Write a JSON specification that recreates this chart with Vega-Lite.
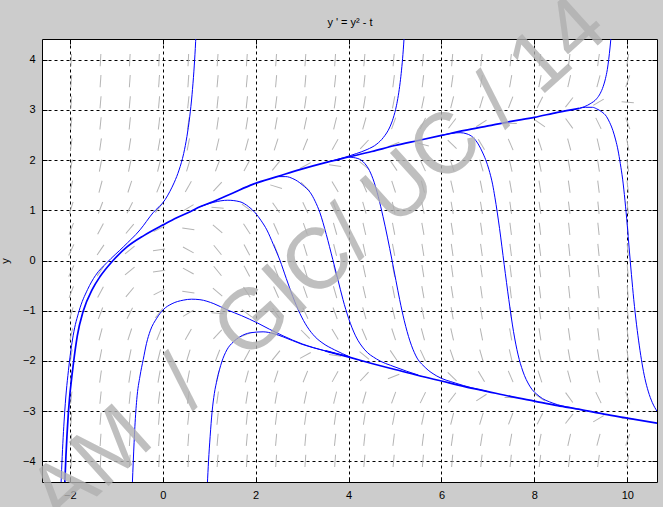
{
"$schema": "https://vega.github.io/schema/vega-lite/v6.json",
"width": 615, "height": 443,
"autosize": {"type": "none"},
"padding": {"left": 42, "top": 39, "right": 6, "bottom": 25},
"background": "#cccccc",
"config": {"view": {"fill": "white", "stroke": "black", "strokeWidth": 1}, "font": "Liberation Sans"},
"datasets": {
"field": [
{"t":-1.97,"y":3.99,"d":87},{"t":-1.34,"y":3.99,"d":87},{"t":-0.71,"y":3.99,"d":87},{"t":-0.08,"y":3.99,"d":87},{"t":0.55,"y":3.99,"d":87},{"t":1.18,"y":3.99,"d":86},{"t":1.81,"y":3.99,"d":86},{"t":2.44,"y":3.99,"d":86},{"t":3.07,"y":3.99,"d":86},{"t":3.71,"y":3.99,"d":86},{"t":4.34,"y":3.99,"d":85},{"t":4.97,"y":3.99,"d":85},{"t":5.6,"y":3.99,"d":85},{"t":6.23,"y":3.99,"d":85},{"t":6.86,"y":3.99,"d":84},{"t":7.49,"y":3.99,"d":84},{"t":8.12,"y":3.99,"d":83},{"t":8.75,"y":3.99,"d":83},{"t":9.38,"y":3.99,"d":82},{"t":10.01,"y":3.99,"d":81},
{"t":-1.97,"y":3.57,"d":86},{"t":-1.34,"y":3.57,"d":86},{"t":-0.71,"y":3.57,"d":86},{"t":-0.08,"y":3.57,"d":86},{"t":0.55,"y":3.57,"d":86},{"t":1.18,"y":3.57,"d":85},{"t":1.81,"y":3.57,"d":85},{"t":2.44,"y":3.57,"d":85},{"t":3.07,"y":3.57,"d":85},{"t":3.71,"y":3.57,"d":84},{"t":4.34,"y":3.57,"d":84},{"t":4.97,"y":3.57,"d":83},{"t":5.6,"y":3.57,"d":83},{"t":6.23,"y":3.57,"d":82},{"t":6.86,"y":3.57,"d":81},{"t":7.49,"y":3.57,"d":80},{"t":8.12,"y":3.57,"d":79},{"t":8.75,"y":3.57,"d":77},{"t":9.38,"y":3.57,"d":75},{"t":10.01,"y":3.57,"d":71},
{"t":-1.97,"y":3.15,"d":86},{"t":-1.34,"y":3.15,"d":85},{"t":-0.71,"y":3.15,"d":85},{"t":-0.08,"y":3.15,"d":85},{"t":0.55,"y":3.15,"d":84},{"t":1.18,"y":3.15,"d":84},{"t":1.81,"y":3.15,"d":84},{"t":2.44,"y":3.15,"d":83},{"t":3.07,"y":3.15,"d":82},{"t":3.71,"y":3.15,"d":82},{"t":4.34,"y":3.15,"d":81},{"t":4.97,"y":3.15,"d":79},{"t":5.6,"y":3.15,"d":78},{"t":6.23,"y":3.15,"d":76},{"t":6.86,"y":3.15,"d":73},{"t":7.49,"y":3.15,"d":69},{"t":8.12,"y":3.15,"d":63},{"t":8.75,"y":3.15,"d":52},{"t":9.38,"y":3.15,"d":31},{"t":10.01,"y":3.15,"d":-5},
{"t":-1.97,"y":2.73,"d":84},{"t":-1.34,"y":2.73,"d":84},{"t":-0.71,"y":2.73,"d":84},{"t":-0.08,"y":2.73,"d":83},{"t":0.55,"y":2.73,"d":82},{"t":1.18,"y":2.73,"d":82},{"t":1.81,"y":2.73,"d":81},{"t":2.44,"y":2.73,"d":80},{"t":3.07,"y":2.73,"d":78},{"t":3.71,"y":2.73,"d":76},{"t":4.34,"y":2.73,"d":74},{"t":4.97,"y":2.73,"d":70},{"t":5.6,"y":2.73,"d":64},{"t":6.23,"y":2.73,"d":53},{"t":6.86,"y":2.73,"d":33},{"t":7.49,"y":2.73,"d":-2},{"t":8.12,"y":2.73,"d":-35},{"t":8.75,"y":2.73,"d":-54},{"t":9.38,"y":2.73,"d":-64},{"t":10.01,"y":2.73,"d":-70},
{"t":-1.97,"y":2.31,"d":83},{"t":-1.34,"y":2.31,"d":82},{"t":-0.71,"y":2.31,"d":81},{"t":-0.08,"y":2.31,"d":80},{"t":0.55,"y":2.31,"d":79},{"t":1.18,"y":2.31,"d":77},{"t":1.81,"y":2.31,"d":75},{"t":2.44,"y":2.31,"d":72},{"t":3.07,"y":2.31,"d":68},{"t":3.71,"y":2.31,"d":61},{"t":4.34,"y":2.31,"d":47},{"t":4.97,"y":2.31,"d":22},{"t":5.6,"y":2.31,"d":-15},{"t":6.23,"y":2.31,"d":-44},{"t":6.86,"y":2.31,"d":-59},{"t":7.49,"y":2.31,"d":-67},{"t":8.12,"y":2.31,"d":-72},{"t":8.75,"y":2.31,"d":-75},{"t":9.38,"y":2.31,"d":-77},{"t":10.01,"y":2.31,"d":-79},
{"t":-1.97,"y":1.89,"d":81},{"t":-1.34,"y":1.89,"d":79},{"t":-0.71,"y":1.89,"d":78},{"t":-0.08,"y":1.89,"d":76},{"t":0.55,"y":1.89,"d":73},{"t":1.18,"y":1.89,"d":69},{"t":1.81,"y":1.89,"d":62},{"t":2.44,"y":1.89,"d":51},{"t":3.07,"y":1.89,"d":29},{"t":3.71,"y":1.89,"d":-8},{"t":4.34,"y":1.89,"d":-39},{"t":4.97,"y":1.89,"d":-56},{"t":5.6,"y":1.89,"d":-65},{"t":6.23,"y":1.89,"d":-71},{"t":6.86,"y":1.89,"d":-74},{"t":7.49,"y":1.89,"d":-77},{"t":8.12,"y":1.89,"d":-78},{"t":8.75,"y":1.89,"d":-80},{"t":9.38,"y":1.89,"d":-81},{"t":10.01,"y":1.89,"d":-82},
{"t":-1.97,"y":1.47,"d":77},{"t":-1.34,"y":1.47,"d":75},{"t":-0.71,"y":1.47,"d":72},{"t":-0.08,"y":1.47,"d":68},{"t":0.55,"y":1.47,"d":60},{"t":1.18,"y":1.47,"d":47},{"t":1.81,"y":1.47,"d":21},{"t":2.44,"y":1.47,"d":-17},{"t":3.07,"y":1.47,"d":-45},{"t":3.71,"y":1.47,"d":-59},{"t":4.34,"y":1.47,"d":-67},{"t":4.97,"y":1.47,"d":-72},{"t":5.6,"y":1.47,"d":-75},{"t":6.23,"y":1.47,"d":-77},{"t":6.86,"y":1.47,"d":-79},{"t":7.49,"y":1.47,"d":-80},{"t":8.12,"y":1.47,"d":-81},{"t":8.75,"y":1.47,"d":-82},{"t":9.38,"y":1.47,"d":-83},{"t":10.01,"y":1.47,"d":-83},
{"t":-1.97,"y":1.05,"d":73},{"t":-1.34,"y":1.05,"d":69},{"t":-0.71,"y":1.05,"d":63},{"t":-0.08,"y":1.05,"d":52},{"t":0.55,"y":1.05,"d":31},{"t":1.18,"y":1.05,"d":-5},{"t":1.81,"y":1.05,"d":-37},{"t":2.44,"y":1.05,"d":-55},{"t":3.07,"y":1.05,"d":-65},{"t":3.71,"y":1.05,"d":-70},{"t":4.34,"y":1.05,"d":-74},{"t":4.97,"y":1.05,"d":-77},{"t":5.6,"y":1.05,"d":-78},{"t":6.23,"y":1.05,"d":-80},{"t":6.86,"y":1.05,"d":-81},{"t":7.49,"y":1.05,"d":-82},{"t":8.12,"y":1.05,"d":-82},{"t":8.75,"y":1.05,"d":-83},{"t":9.38,"y":1.05,"d":-84},{"t":10.01,"y":1.05,"d":-84},
{"t":-1.97,"y":0.63,"d":69},{"t":-1.34,"y":0.63,"d":62},{"t":-0.71,"y":0.63,"d":50},{"t":-0.08,"y":0.63,"d":27},{"t":0.55,"y":0.63,"d":-9},{"t":1.18,"y":0.63,"d":-40},{"t":1.81,"y":0.63,"d":-57},{"t":2.44,"y":0.63,"d":-66},{"t":3.07,"y":0.63,"d":-71},{"t":3.71,"y":0.63,"d":-74},{"t":4.34,"y":0.63,"d":-77},{"t":4.97,"y":0.63,"d":-79},{"t":5.6,"y":0.63,"d":-80},{"t":6.23,"y":0.63,"d":-81},{"t":6.86,"y":0.63,"d":-82},{"t":7.49,"y":0.63,"d":-83},{"t":8.12,"y":0.63,"d":-83},{"t":8.75,"y":0.63,"d":-84},{"t":9.38,"y":0.63,"d":-84},{"t":10.01,"y":0.63,"d":-85},
{"t":-1.97,"y":0.21,"d":65},{"t":-1.34,"y":0.21,"d":56},{"t":-0.71,"y":0.21,"d":39},{"t":-0.08,"y":0.21,"d":8},{"t":0.55,"y":0.21,"d":-29},{"t":1.18,"y":0.21,"d":-51},{"t":1.81,"y":0.21,"d":-62},{"t":2.44,"y":0.21,"d":-69},{"t":3.07,"y":0.21,"d":-73},{"t":3.71,"y":0.21,"d":-76},{"t":4.34,"y":0.21,"d":-78},{"t":4.97,"y":0.21,"d":-79},{"t":5.6,"y":0.21,"d":-81},{"t":6.23,"y":0.21,"d":-82},{"t":6.86,"y":0.21,"d":-82},{"t":7.49,"y":0.21,"d":-83},{"t":8.12,"y":0.21,"d":-83},{"t":8.75,"y":0.21,"d":-84},{"t":9.38,"y":0.21,"d":-84},{"t":10.01,"y":0.21,"d":-85},
{"t":-1.97,"y":-0.21,"d":65},{"t":-1.34,"y":-0.21,"d":56},{"t":-0.71,"y":-0.21,"d":39},{"t":-0.08,"y":-0.21,"d":8},{"t":0.55,"y":-0.21,"d":-29},{"t":1.18,"y":-0.21,"d":-51},{"t":1.81,"y":-0.21,"d":-62},{"t":2.44,"y":-0.21,"d":-69},{"t":3.07,"y":-0.21,"d":-73},{"t":3.71,"y":-0.21,"d":-76},{"t":4.34,"y":-0.21,"d":-78},{"t":4.97,"y":-0.21,"d":-79},{"t":5.6,"y":-0.21,"d":-81},{"t":6.23,"y":-0.21,"d":-82},{"t":6.86,"y":-0.21,"d":-82},{"t":7.49,"y":-0.21,"d":-83},{"t":8.12,"y":-0.21,"d":-83},{"t":8.75,"y":-0.21,"d":-84},{"t":9.38,"y":-0.21,"d":-84},{"t":10.01,"y":-0.21,"d":-85},
{"t":-1.97,"y":-0.63,"d":69},{"t":-1.34,"y":-0.63,"d":62},{"t":-0.71,"y":-0.63,"d":50},{"t":-0.08,"y":-0.63,"d":27},{"t":0.55,"y":-0.63,"d":-9},{"t":1.18,"y":-0.63,"d":-40},{"t":1.81,"y":-0.63,"d":-57},{"t":2.44,"y":-0.63,"d":-66},{"t":3.07,"y":-0.63,"d":-71},{"t":3.71,"y":-0.63,"d":-74},{"t":4.34,"y":-0.63,"d":-77},{"t":4.97,"y":-0.63,"d":-79},{"t":5.6,"y":-0.63,"d":-80},{"t":6.23,"y":-0.63,"d":-81},{"t":6.86,"y":-0.63,"d":-82},{"t":7.49,"y":-0.63,"d":-83},{"t":8.12,"y":-0.63,"d":-83},{"t":8.75,"y":-0.63,"d":-84},{"t":9.38,"y":-0.63,"d":-84},{"t":10.01,"y":-0.63,"d":-85},
{"t":-1.97,"y":-1.05,"d":73},{"t":-1.34,"y":-1.05,"d":69},{"t":-0.71,"y":-1.05,"d":63},{"t":-0.08,"y":-1.05,"d":52},{"t":0.55,"y":-1.05,"d":31},{"t":1.18,"y":-1.05,"d":-5},{"t":1.81,"y":-1.05,"d":-37},{"t":2.44,"y":-1.05,"d":-55},{"t":3.07,"y":-1.05,"d":-65},{"t":3.71,"y":-1.05,"d":-70},{"t":4.34,"y":-1.05,"d":-74},{"t":4.97,"y":-1.05,"d":-77},{"t":5.6,"y":-1.05,"d":-78},{"t":6.23,"y":-1.05,"d":-80},{"t":6.86,"y":-1.05,"d":-81},{"t":7.49,"y":-1.05,"d":-82},{"t":8.12,"y":-1.05,"d":-82},{"t":8.75,"y":-1.05,"d":-83},{"t":9.38,"y":-1.05,"d":-84},{"t":10.01,"y":-1.05,"d":-84},
{"t":-1.97,"y":-1.47,"d":77},{"t":-1.34,"y":-1.47,"d":75},{"t":-0.71,"y":-1.47,"d":72},{"t":-0.08,"y":-1.47,"d":68},{"t":0.55,"y":-1.47,"d":60},{"t":1.18,"y":-1.47,"d":47},{"t":1.81,"y":-1.47,"d":21},{"t":2.44,"y":-1.47,"d":-17},{"t":3.07,"y":-1.47,"d":-45},{"t":3.71,"y":-1.47,"d":-59},{"t":4.34,"y":-1.47,"d":-67},{"t":4.97,"y":-1.47,"d":-72},{"t":5.6,"y":-1.47,"d":-75},{"t":6.23,"y":-1.47,"d":-77},{"t":6.86,"y":-1.47,"d":-79},{"t":7.49,"y":-1.47,"d":-80},{"t":8.12,"y":-1.47,"d":-81},{"t":8.75,"y":-1.47,"d":-82},{"t":9.38,"y":-1.47,"d":-83},{"t":10.01,"y":-1.47,"d":-83},
{"t":-1.97,"y":-1.89,"d":81},{"t":-1.34,"y":-1.89,"d":79},{"t":-0.71,"y":-1.89,"d":78},{"t":-0.08,"y":-1.89,"d":76},{"t":0.55,"y":-1.89,"d":73},{"t":1.18,"y":-1.89,"d":69},{"t":1.81,"y":-1.89,"d":62},{"t":2.44,"y":-1.89,"d":51},{"t":3.07,"y":-1.89,"d":29},{"t":3.71,"y":-1.89,"d":-8},{"t":4.34,"y":-1.89,"d":-39},{"t":4.97,"y":-1.89,"d":-56},{"t":5.6,"y":-1.89,"d":-65},{"t":6.23,"y":-1.89,"d":-71},{"t":6.86,"y":-1.89,"d":-74},{"t":7.49,"y":-1.89,"d":-77},{"t":8.12,"y":-1.89,"d":-78},{"t":8.75,"y":-1.89,"d":-80},{"t":9.38,"y":-1.89,"d":-81},{"t":10.01,"y":-1.89,"d":-82},
{"t":-1.97,"y":-2.31,"d":83},{"t":-1.34,"y":-2.31,"d":82},{"t":-0.71,"y":-2.31,"d":81},{"t":-0.08,"y":-2.31,"d":80},{"t":0.55,"y":-2.31,"d":79},{"t":1.18,"y":-2.31,"d":77},{"t":1.81,"y":-2.31,"d":75},{"t":2.44,"y":-2.31,"d":72},{"t":3.07,"y":-2.31,"d":68},{"t":3.71,"y":-2.31,"d":61},{"t":4.34,"y":-2.31,"d":47},{"t":4.97,"y":-2.31,"d":22},{"t":5.6,"y":-2.31,"d":-15},{"t":6.23,"y":-2.31,"d":-44},{"t":6.86,"y":-2.31,"d":-59},{"t":7.49,"y":-2.31,"d":-67},{"t":8.12,"y":-2.31,"d":-72},{"t":8.75,"y":-2.31,"d":-75},{"t":9.38,"y":-2.31,"d":-77},{"t":10.01,"y":-2.31,"d":-79},
{"t":-1.97,"y":-2.73,"d":84},{"t":-1.34,"y":-2.73,"d":84},{"t":-0.71,"y":-2.73,"d":84},{"t":-0.08,"y":-2.73,"d":83},{"t":0.55,"y":-2.73,"d":82},{"t":1.18,"y":-2.73,"d":82},{"t":1.81,"y":-2.73,"d":81},{"t":2.44,"y":-2.73,"d":80},{"t":3.07,"y":-2.73,"d":78},{"t":3.71,"y":-2.73,"d":76},{"t":4.34,"y":-2.73,"d":74},{"t":4.97,"y":-2.73,"d":70},{"t":5.6,"y":-2.73,"d":64},{"t":6.23,"y":-2.73,"d":53},{"t":6.86,"y":-2.73,"d":33},{"t":7.49,"y":-2.73,"d":-2},{"t":8.12,"y":-2.73,"d":-35},{"t":8.75,"y":-2.73,"d":-54},{"t":9.38,"y":-2.73,"d":-64},{"t":10.01,"y":-2.73,"d":-70},
{"t":-1.97,"y":-3.15,"d":86},{"t":-1.34,"y":-3.15,"d":85},{"t":-0.71,"y":-3.15,"d":85},{"t":-0.08,"y":-3.15,"d":85},{"t":0.55,"y":-3.15,"d":84},{"t":1.18,"y":-3.15,"d":84},{"t":1.81,"y":-3.15,"d":84},{"t":2.44,"y":-3.15,"d":83},{"t":3.07,"y":-3.15,"d":82},{"t":3.71,"y":-3.15,"d":82},{"t":4.34,"y":-3.15,"d":81},{"t":4.97,"y":-3.15,"d":79},{"t":5.6,"y":-3.15,"d":78},{"t":6.23,"y":-3.15,"d":76},{"t":6.86,"y":-3.15,"d":73},{"t":7.49,"y":-3.15,"d":69},{"t":8.12,"y":-3.15,"d":63},{"t":8.75,"y":-3.15,"d":52},{"t":9.38,"y":-3.15,"d":31},{"t":10.01,"y":-3.15,"d":-5},
{"t":-1.97,"y":-3.57,"d":86},{"t":-1.34,"y":-3.57,"d":86},{"t":-0.71,"y":-3.57,"d":86},{"t":-0.08,"y":-3.57,"d":86},{"t":0.55,"y":-3.57,"d":86},{"t":1.18,"y":-3.57,"d":85},{"t":1.81,"y":-3.57,"d":85},{"t":2.44,"y":-3.57,"d":85},{"t":3.07,"y":-3.57,"d":85},{"t":3.71,"y":-3.57,"d":84},{"t":4.34,"y":-3.57,"d":84},{"t":4.97,"y":-3.57,"d":83},{"t":5.6,"y":-3.57,"d":83},{"t":6.23,"y":-3.57,"d":82},{"t":6.86,"y":-3.57,"d":81},{"t":7.49,"y":-3.57,"d":80},{"t":8.12,"y":-3.57,"d":79},{"t":8.75,"y":-3.57,"d":77},{"t":9.38,"y":-3.57,"d":75},{"t":10.01,"y":-3.57,"d":71},
{"t":-1.97,"y":-3.99,"d":87},{"t":-1.34,"y":-3.99,"d":87},{"t":-0.71,"y":-3.99,"d":87},{"t":-0.08,"y":-3.99,"d":87},{"t":0.55,"y":-3.99,"d":87},{"t":1.18,"y":-3.99,"d":86},{"t":1.81,"y":-3.99,"d":86},{"t":2.44,"y":-3.99,"d":86},{"t":3.07,"y":-3.99,"d":86},{"t":3.71,"y":-3.99,"d":86},{"t":4.34,"y":-3.99,"d":85},{"t":4.97,"y":-3.99,"d":85},{"t":5.6,"y":-3.99,"d":85},{"t":6.23,"y":-3.99,"d":85},{"t":6.86,"y":-3.99,"d":84},{"t":7.49,"y":-3.99,"d":84},{"t":8.12,"y":-3.99,"d":83},{"t":8.75,"y":-3.99,"d":83},{"t":9.38,"y":-3.99,"d":82},{"t":10.01,"y":-3.99,"d":81}
],
"curves": [
{"curve":"S","t":-2.11,"y":-4.45},{"curve":"S","t":-2.085,"y":-3.9},{"curve":"S","t":-2.03,"y":-3.0},{"curve":"S","t":-1.93,"y":-2.1},{"curve":"S","t":-1.84,"y":-1.5},{"curve":"S","t":-1.71,"y":-1.0},{"curve":"S","t":-1.52,"y":-0.58},{"curve":"S","t":-1.35,"y":-0.32},{"curve":"S","t":-1.09,"y":-0.02},{"curve":"S","t":-0.77,"y":0.27},{"curve":"S","t":-0.4,"y":0.5},{"curve":"S","t":0.01,"y":0.71},{"curve":"S","t":0.3,"y":0.85},{"curve":"S","t":0.59,"y":0.97},{"curve":"S","t":0.8,"y":1.07},{"curve":"S","t":1.08,"y":1.17},{"curve":"S","t":1.5,"y":1.34},{"curve":"S","t":1.95,"y":1.52},{"curve":"S","t":2.5,"y":1.68},{"curve":"S","t":2.95,"y":1.81},{"curve":"S","t":3.5,"y":1.95},{"curve":"S","t":4.0,"y":2.06},{"curve":"S","t":4.5,"y":2.17},{"curve":"S","t":5.0,"y":2.29},{"curve":"S","t":5.5,"y":2.39},{"curve":"S","t":6.0,"y":2.49},{"curve":"S","t":6.5,"y":2.59},{"curve":"S","t":7.0,"y":2.68},{"curve":"S","t":7.5,"y":2.77},{"curve":"S","t":8.0,"y":2.85},{"curve":"S","t":8.5,"y":2.95},{"curve":"S","t":8.97,"y":3.03},
{"curve":"L","t":3.5,"y":-1.8},{"curve":"L","t":4.03,"y":-1.93},{"curve":"L","t":4.5,"y":-2.05},{"curve":"L","t":5.0,"y":-2.17},{"curve":"L","t":5.5,"y":-2.29},{"curve":"L","t":6.0,"y":-2.4},{"curve":"L","t":6.5,"y":-2.51},{"curve":"L","t":7.0,"y":-2.61},{"curve":"L","t":7.5,"y":-2.71},{"curve":"L","t":8.0,"y":-2.8},{"curve":"L","t":8.5,"y":-2.89},{"curve":"L","t":9.0,"y":-2.97},{"curve":"L","t":9.5,"y":-3.06},{"curve":"L","t":10.0,"y":-3.14},{"curve":"L","t":10.64,"y":-3.24},
{"curve":"B1","t":-2.19,"y":-4.45},{"curve":"B1","t":-2.165,"y":-3.9},{"curve":"B1","t":-2.11,"y":-3.0},{"curve":"B1","t":-2.02,"y":-2.1},{"curve":"B1","t":-1.93,"y":-1.5},{"curve":"B1","t":-1.8,"y":-1.0},{"curve":"B1","t":-1.62,"y":-0.58},{"curve":"B1","t":-1.45,"y":-0.3},{"curve":"B1","t":-1.2,"y":-0.04},{"curve":"B1","t":-0.85,"y":0.27},{"curve":"B1","t":-0.49,"y":0.61},{"curve":"B1","t":-0.21,"y":0.95},{"curve":"B1","t":0.05,"y":1.21},{"curve":"B1","t":0.15,"y":1.37},{"curve":"B1","t":0.25,"y":1.56},{"curve":"B1","t":0.35,"y":1.8},{"curve":"B1","t":0.45,"y":2.13},{"curve":"B1","t":0.52,"y":2.47},{"curve":"B1","t":0.58,"y":2.86},{"curve":"B1","t":0.63,"y":3.3},{"curve":"B1","t":0.67,"y":3.77},{"curve":"B1","t":0.7,"y":4.22},{"curve":"B1","t":0.715,"y":4.5},
{"curve":"D1","t":0.8,"y":1.07},{"curve":"D1","t":1.1,"y":1.16},{"curve":"D1","t":1.4,"y":1.2},{"curve":"D1","t":1.66,"y":1.17},{"curve":"D1","t":1.85,"y":1.07},{"curve":"D1","t":1.99,"y":0.95},{"curve":"D1","t":2.12,"y":0.79},{"curve":"D1","t":2.24,"y":0.61},{"curve":"D1","t":2.38,"y":0.32},{"curve":"D1","t":2.52,"y":0.01},{"curve":"D1","t":2.66,"y":-0.36},{"curve":"D1","t":2.8,"y":-0.72},{"curve":"D1","t":2.95,"y":-1.05},{"curve":"D1","t":3.11,"y":-1.32},{"curve":"D1","t":3.28,"y":-1.52},{"curve":"D1","t":3.45,"y":-1.65},{"curve":"D1","t":3.7,"y":-1.78},{"curve":"D1","t":4.03,"y":-1.92},
{"curve":"L1","t":-0.655,"y":-4.45},{"curve":"L1","t":-0.635,"y":-4.0},{"curve":"L1","t":-0.6,"y":-3.3},{"curve":"L1","t":-0.56,"y":-2.77},{"curve":"L1","t":-0.49,"y":-2.3},{"curve":"L1","t":-0.42,"y":-1.97},{"curve":"L1","t":-0.35,"y":-1.65},{"curve":"L1","t":-0.27,"y":-1.4},{"curve":"L1","t":-0.13,"y":-1.15},{"curve":"L1","t":0.01,"y":-0.98},{"curve":"L1","t":0.2,"y":-0.86},{"curve":"L1","t":0.44,"y":-0.79},{"curve":"L1","t":0.62,"y":-0.77},{"curve":"L1","t":0.8,"y":-0.78},{"curve":"L1","t":1.1,"y":-0.86},{"curve":"L1","t":1.38,"y":-0.98},{"curve":"L1","t":1.7,"y":-1.1},{"curve":"L1","t":2.03,"y":-1.24},{"curve":"L1","t":2.3,"y":-1.37},{"curve":"L1","t":2.59,"y":-1.5},{"curve":"L1","t":3.0,"y":-1.66},{"curve":"L1","t":3.5,"y":-1.8},{"curve":"L1","t":4.03,"y":-1.92},
{"curve":"L2","t":0.96,"y":-4.45},{"curve":"L2","t":0.985,"y":-4.0},{"curve":"L2","t":1.02,"y":-3.5},{"curve":"L2","t":1.06,"y":-3.03},{"curve":"L2","t":1.11,"y":-2.65},{"curve":"L2","t":1.17,"y":-2.37},{"curve":"L2","t":1.27,"y":-2.02},{"curve":"L2","t":1.38,"y":-1.78},{"curve":"L2","t":1.52,"y":-1.62},{"curve":"L2","t":1.66,"y":-1.52},{"curve":"L2","t":1.88,"y":-1.44},{"curve":"L2","t":2.16,"y":-1.42},{"curve":"L2","t":2.4,"y":-1.46},{"curve":"L2","t":2.59,"y":-1.52},{"curve":"L2","t":3.0,"y":-1.67},{"curve":"L2","t":3.5,"y":-1.8},{"curve":"L2","t":4.03,"y":-1.92},
{"curve":"D2","t":2.5,"y":1.67},{"curve":"D2","t":2.65,"y":1.67},{"curve":"D2","t":2.8,"y":1.63},{"curve":"D2","t":2.9,"y":1.58},{"curve":"D2","t":3.0,"y":1.51},{"curve":"D2","t":3.1,"y":1.43},{"curve":"D2","t":3.17,"y":1.36},{"curve":"D2","t":3.28,"y":1.18},{"curve":"D2","t":3.38,"y":0.96},{"curve":"D2","t":3.52,"y":0.52},{"curve":"D2","t":3.66,"y":0.02},{"curve":"D2","t":3.77,"y":-0.38},{"curve":"D2","t":3.88,"y":-0.78},{"curve":"D2","t":4.0,"y":-1.15},{"curve":"D2","t":4.15,"y":-1.5},{"curve":"D2","t":4.35,"y":-1.78},{"curve":"D2","t":4.6,"y":-1.96},{"curve":"D2","t":5.0,"y":-2.12},{"curve":"D2","t":5.5,"y":-2.28},
{"curve":"B2","t":3.6,"y":1.97},{"curve":"B2","t":3.9,"y":2.05},{"curve":"B2","t":4.17,"y":2.13},{"curve":"B2","t":4.4,"y":2.21},{"curve":"B2","t":4.61,"y":2.32},{"curve":"B2","t":4.75,"y":2.45},{"curve":"B2","t":4.89,"y":2.66},{"curve":"B2","t":4.96,"y":2.83},{"curve":"B2","t":5.03,"y":3.08},{"curve":"B2","t":5.07,"y":3.28},{"curve":"B2","t":5.11,"y":3.54},{"curve":"B2","t":5.14,"y":3.79},{"curve":"B2","t":5.17,"y":4.1},{"curve":"B2","t":5.2,"y":4.5},
{"curve":"D3","t":4.0,"y":2.06},{"curve":"D3","t":4.2,"y":2.03},{"curve":"D3","t":4.35,"y":1.93},{"curve":"D3","t":4.45,"y":1.79},{"curve":"D3","t":4.55,"y":1.56},{"curve":"D3","t":4.64,"y":1.27},{"curve":"D3","t":4.74,"y":0.88},{"curve":"D3","t":4.84,"y":0.45},{"curve":"D3","t":4.93,"y":0.03},{"curve":"D3","t":5.02,"y":-0.4},{"curve":"D3","t":5.1,"y":-0.78},{"curve":"D3","t":5.2,"y":-1.2},{"curve":"D3","t":5.32,"y":-1.6},{"curve":"D3","t":5.45,"y":-1.9},{"curve":"D3","t":5.65,"y":-2.13},{"curve":"D3","t":5.9,"y":-2.3},{"curve":"D3","t":6.3,"y":-2.44},{"curve":"D3","t":7.0,"y":-2.61},
{"curve":"D4","t":6.0,"y":2.49},{"curve":"D4","t":6.2,"y":2.53},{"curve":"D4","t":6.4,"y":2.545},{"curve":"D4","t":6.55,"y":2.52},{"curve":"D4","t":6.68,"y":2.45},{"curve":"D4","t":6.79,"y":2.32},{"curve":"D4","t":6.89,"y":2.14},{"curve":"D4","t":6.97,"y":1.96},{"curve":"D4","t":7.04,"y":1.75},{"curve":"D4","t":7.1,"y":1.52},{"curve":"D4","t":7.15,"y":1.26},{"curve":"D4","t":7.25,"y":0.64},{"curve":"D4","t":7.35,"y":-0.08},{"curve":"D4","t":7.45,"y":-0.78},{"curve":"D4","t":7.55,"y":-1.41},{"curve":"D4","t":7.65,"y":-1.88},{"curve":"D4","t":7.75,"y":-2.2},{"curve":"D4","t":7.9,"y":-2.5},{"curve":"D4","t":8.1,"y":-2.7},{"curve":"D4","t":8.4,"y":-2.84},{"curve":"D4","t":8.8,"y":-2.93},
{"curve":"B3","t":8.97,"y":3.03},{"curve":"B3","t":9.2,"y":3.12},{"curve":"B3","t":9.34,"y":3.22},{"curve":"B3","t":9.42,"y":3.33},{"curve":"B3","t":9.48,"y":3.46},{"curve":"B3","t":9.53,"y":3.62},{"curve":"B3","t":9.57,"y":3.8},{"curve":"B3","t":9.6,"y":4.0},{"curve":"B3","t":9.63,"y":4.25},{"curve":"B3","t":9.655,"y":4.5},
{"curve":"D5","t":8.97,"y":3.03},{"curve":"D5","t":9.1,"y":3.05},{"curve":"D5","t":9.25,"y":3.05},{"curve":"D5","t":9.34,"y":3.02},{"curve":"D5","t":9.45,"y":2.96},{"curve":"D5","t":9.55,"y":2.87},{"curve":"D5","t":9.62,"y":2.75},{"curve":"D5","t":9.69,"y":2.59},{"curve":"D5","t":9.75,"y":2.4},{"curve":"D5","t":9.8,"y":2.2},{"curve":"D5","t":9.85,"y":1.93},{"curve":"D5","t":9.9,"y":1.62},{"curve":"D5","t":9.95,"y":1.2},{"curve":"D5","t":10.0,"y":0.7},{"curve":"D5","t":10.04,"y":0.25},{"curve":"D5","t":10.09,"y":-0.28},{"curve":"D5","t":10.14,"y":-0.78},{"curve":"D5","t":10.2,"y":-1.28},{"curve":"D5","t":10.26,"y":-1.7},{"curve":"D5","t":10.32,"y":-2.06},{"curve":"D5","t":10.38,"y":-2.35},{"curve":"D5","t":10.45,"y":-2.6},{"curve":"D5","t":10.54,"y":-2.83},{"curve":"D5","t":10.64,"y":-3.0}
],
"stamp": [{"t": -2.2, "y": -5.35, "text": "AM \u00a0/ \u00a0GIC/ UC / 14"}]
},
"resolve": {"axis": {"x": "independent", "y": "independent"}},
"layer": [
{"data": {"name": "field"},
 "mark": {"type": "point", "shape": "M-1,0L1,0", "size": 150, "filled": false, "stroke": "#b4b4b4", "strokeWidth": 1, "opacity": 1},
 "encoding": {
  "x": {"field": "t", "type": "quantitative", "scale": {"domain": [-2.6, 10.64], "nice": false, "zero": false},
   "axis": {"values": [-2,0,2,4,6,8,10], "grid": true, "gridColor": "#000000", "gridDash": [3,3], "gridOpacity": 1, "gridWidth": 1, "domain": false, "ticks": true, "tickSize": -5, "tickColor": "#000000", "tickWidth": 1, "labelPadding": 12, "labelFontSize": 11, "labelColor": "#000000", "labelFont": "Liberation Sans", "labelFlush": false, "labelOverlap": false, "title": null}},
  "y": {"field": "y", "type": "quantitative", "scale": {"domain": [-4.41, 4.41], "nice": false, "zero": false},
   "axis": {"values": [-4,-3,-2,-1,0,1,2,3,4], "grid": true, "gridColor": "#000000", "gridDash": [3,3], "gridOpacity": 1, "gridWidth": 1, "domain": false, "ticks": true, "tickSize": -5, "tickColor": "#000000", "tickWidth": 1, "labelPadding": 12, "labelFontSize": 11, "labelColor": "#000000", "labelFont": "Liberation Sans", "labelFlush": false, "labelOverlap": false, "title": "y", "titleFontSize": 11, "titleFontWeight": "normal", "titleColor": "#000000", "titleFont": "Liberation Sans", "titlePadding": 12}},
  "angle": {"field": "d", "type": "quantitative", "scale": {"domain": [-90, 90], "range": [90, -90]}}
 }},
{"data": {"name": "curves"},
 "transform": [{"filter": "datum.curve == 'S' || datum.curve == 'L'"}],
 "mark": {"type": "line", "clip": true, "color": "#0000ff", "strokeWidth": 1.7, "interpolate": "monotone"},
 "encoding": {
  "x": {"field": "t", "type": "quantitative", "axis": {"orient": "top", "values": [-2,0,2,4,6,8,10], "labels": false, "grid": false, "domain": false, "ticks": true, "tickSize": -5, "tickColor": "#000000", "title": "y ' = y² - t", "titleFontSize": 11, "titleFontWeight": "normal", "titleColor": "#000000", "titleFont": "Liberation Sans", "titlePadding": 11}},
  "y": {"field": "y", "type": "quantitative", "axis": {"orient": "right", "values": [-4,-3,-2,-1,0,1,2,3,4], "labels": false, "grid": false, "domain": false, "ticks": true, "tickSize": -5, "tickColor": "#000000", "title": null}},
  "detail": {"field": "curve", "type": "nominal"}
 }},
{"data": {"name": "curves"},
 "transform": [{"filter": "datum.curve != 'S' && datum.curve != 'L'"}],
 "mark": {"type": "line", "clip": true, "color": "#0000ff", "strokeWidth": 1, "interpolate": "monotone"},
 "encoding": {
  "x": {"field": "t", "type": "quantitative", "axis": null},
  "y": {"field": "y", "type": "quantitative", "axis": null},
  "detail": {"field": "curve", "type": "nominal"}
 }},
{"data": {"name": "stamp"},
 "mark": {"type": "text", "align": "left", "baseline": "alphabetic", "angle": -42, "fontSize": 86, "font": "Liberation Sans", "color": "#b0b0b0", "opacity": 0.8},
 "encoding": {
  "x": {"field": "t", "type": "quantitative", "axis": null},
  "y": {"field": "y", "type": "quantitative", "axis": null},
  "text": {"field": "text"}
 }}
]
}
